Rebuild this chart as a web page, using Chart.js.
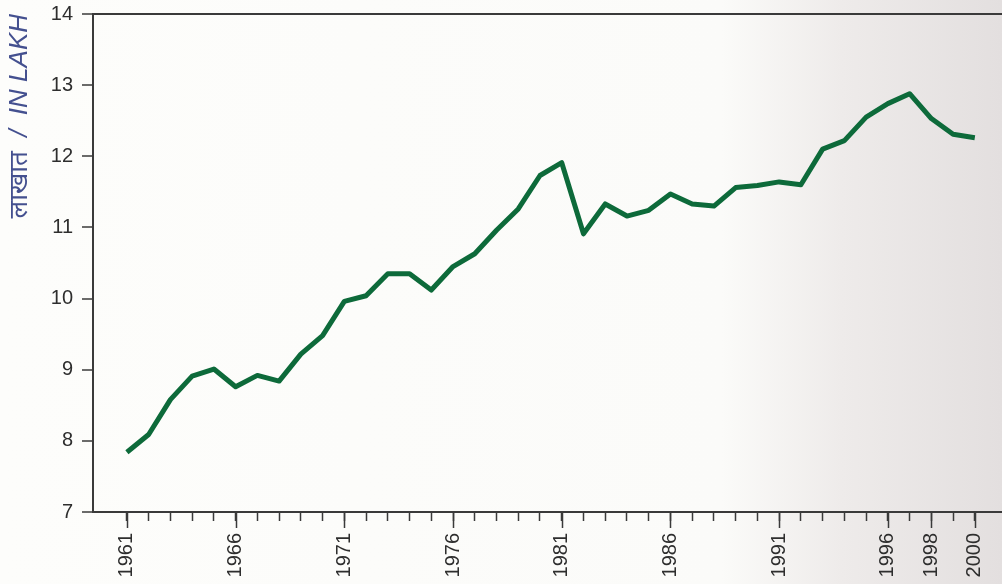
<!DOCTYPE html>
<html>
<head>
<meta charset="utf-8">
<script src="https://cdn.jsdelivr.net/npm/chart.js@4.4.1/dist/chart.umd.min.js"></script>
<style>
	html, body { margin: 0; padding: 0; }
	body {
		width: 1002px;
		height: 584px;
		background: linear-gradient(90deg, #fdfdfb 0%, #fbfbf9 72%, #eeebea 84%, #e3dfdf 100%);
	}
	#wrap { width: 1002px; height: 584px; position: relative; }
</style>
</head>
<body>
<div id="wrap"><canvas id="lakhChart"></canvas></div>
<script>
// years on the x axis
const years = [
	1961, 1962, 1963, 1964, 1965, 1966, 1967, 1968, 1969, 1970,
	1971, 1972, 1973, 1974, 1975, 1976, 1977, 1978, 1979, 1980,
	1981, 1982, 1983, 1984, 1985, 1986, 1987, 1988, 1989, 1990,
	1991, 1992, 1993, 1994, 1995, 1996, 1997, 1998, 1999, 2000
]

// values in lakh
const values = [
	7.84, 8.09, 8.58, 8.91, 9.01, 8.76, 8.92, 8.84, 9.22, 9.48,
	9.96, 10.04, 10.35, 10.35, 10.12, 10.45, 10.63, 10.96, 11.26, 11.73,
	11.91, 10.91, 11.33, 11.16, 11.24, 11.47, 11.33, 11.30, 11.56, 11.59,
	11.64, 11.60, 12.10, 12.22, 12.55, 12.74, 12.88, 12.53, 12.31, 12.26
]

// years that carry a label (and a long tick)
const labeledYears = [1961, 1966, 1971, 1976, 1981, 1986, 1991, 1996, 1998, 2000]

const yTicks = [7, 8, 9, 10, 11, 12, 13, 14]

const axisColor = '#3a3a3a'
// small lineHeight so the labels do not push the plot area inwards
const tickFont = { family: 'Liberation Sans, Arial, sans-serif', size: 20, lineHeight: 0.5 }

/**
 * draws the longer ticks under the labelled years
 */
const longTicks = {
	id: 'longTicks',
	afterDraw(chart) {
		const x = chart.scales.x
		const ctx = chart.ctx
		ctx.save()
		ctx.strokeStyle = axisColor
		ctx.lineWidth = 1.5
		labeledYears.forEach((year) => {
			const px = Math.round(x.getPixelForValue(year)) + 0.5
			ctx.beginPath()
			ctx.moveTo(px, x.top)
			ctx.lineTo(px, x.top + 16)
			ctx.stroke()
		})
		ctx.restore()
	}
}

new Chart(document.getElementById('lakhChart'), {
	type: 'line',
	data: {
		datasets: [{
			label: 'lakh',
			data: years.map((year, i) => ({ x: year, y: values[i] })),
			borderColor: '#0d6a3a',
			borderWidth: 5,
			borderJoinStyle: 'round',
			pointRadius: 0,
			tension: 0
		}]
	},
	options: {
		responsive: true,
		maintainAspectRatio: false,
		animation: false,
		layout: { padding: { top: 13, right: 0, left: 0, bottom: 0 } },
		plugins: {
			legend: { display: false },
			tooltip: { enabled: false }
		},
		scales: {
			x: {
				type: 'linear',
				min: 1959.44,
				max: 2001.25,
				afterBuildTicks: (scale) => {
					scale.ticks = years.map((year) => ({ value: year }))
				},
				afterFit: (scale) => { scale.height = 72 },
				border: { display: true, color: axisColor, width: 2 },
				grid: {
					drawOnChartArea: false,
					tickLength: 9,
					tickColor: axisColor,
					tickWidth: 1.5
				},
				ticks: {
					autoSkip: false,
					minRotation: 90,
					maxRotation: 90,
					padding: 12,
					color: '#2e2e2e',
					font: tickFont,
					callback: (value) => labeledYears.includes(value) ? String(value) : ''
				}
			},
			y: {
				min: 7,
				max: 14,
				afterBuildTicks: (scale) => {
					scale.ticks = yTicks.map((v) => ({ value: v }))
				},
				afterFit: (scale) => { scale.width = 93 },
				border: { display: true, color: axisColor, width: 2 },
				grid: {
					drawOnChartArea: true,
					color: (ctx) => ctx.tick && ctx.tick.value === 14 ? axisColor : 'rgba(0,0,0,0)',
					lineWidth: 2,
					tickLength: 11,
					tickColor: axisColor,
					tickWidth: 1.5
				},
				ticks: {
					padding: 9,
					color: '#2e2e2e',
					font: tickFont,
					callback: (value) => String(value)
				},
				title: {
					display: true,
					text: 'लाखात  /  IN LAKH',
					align: 'end',
					color: '#44508f',
					padding: { top: 4, bottom: 0 },
					font: { family: 'Liberation Sans, Arial, "Noto Sans", sans-serif', size: 26, style: 'italic' }
				}
			}
		}
	},
	plugins: [longTicks]
})
</script>
</body>
</html>
